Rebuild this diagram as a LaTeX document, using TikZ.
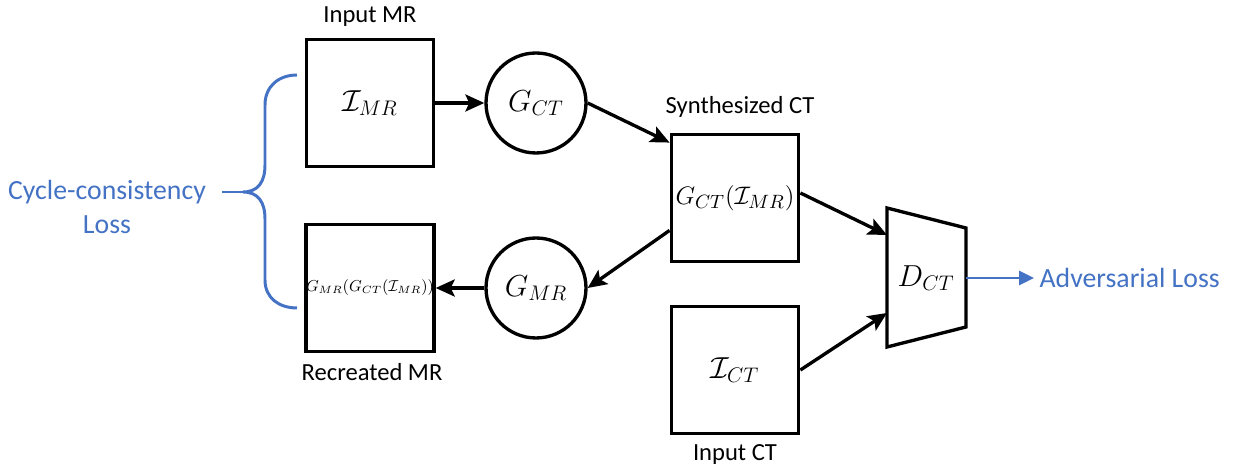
\documentclass[tikz,border=0pt]{standalone}
\usepackage{amsmath,amssymb}
\usepackage{fontspec}
\setmainfont{Carlito}
\usepackage{xcolor}
\usetikzlibrary{arrows.meta}
\definecolor{lossblue}{RGB}{68,114,196}

\tikzset{
  img/.style={draw, line width=1.9pt, minimum width=2.55cm, minimum height=2.55cm, inner sep=0pt},
  gen/.style={draw, circle, line width=1.9pt, minimum size=2cm, inner sep=0pt},
  flow/.style={line width=1.9pt, -{Stealth[length=3.8mm, width=3.4mm, inset=0.8mm]}},
  caption/.style={font=\fontsize{14}{16}\selectfont},
  loss/.style={text=lossblue, font=\fontsize{15.8}{19}\selectfont},
  bigmath/.style={font=\fontsize{17.5}{20}\selectfont},
}

\begin{document}
\begin{tikzpicture}[x=0.02cm, y=0.02cm]
  \useasboundingbox (0,0) rectangle (1234,466);

  % --- images ---
  \node[img, bigmath] (mrin)  at (370,363) {$\mathcal{I}_{MR}$};
  \node[img, font=\fontsize{15.2}{18}\selectfont] (ctsyn) at (735,268) {$G_{CT}(\mathcal{I}_{MR})$};
  \node[img, bigmath] (ctin)  at (735,96)  {$\mathcal{I}_{CT}$};
  \node[img, font=\fontsize{9}{11}\selectfont] (mrrec) at (370,178) {$G_{MR}(G_{CT}(\mathcal{I}_{MR}))$};

  \node[caption] (mrincap)  at (370,449) {Input MR};
  \node[caption] (ctsyncap) at (740,359) {Synthesized CT};
  \node[caption] (ctincap)  at (735,11)  {Input CT};
  \node[caption] (mrreccap) at (372,94)  {Recreated MR};

  % --- generators ---
  \node[gen, bigmath] (gct) at (536,363) {$G_{CT}$};
  \node[gen, bigmath] (gmr) at (536,178) {$G_{MR}$};

  % --- discriminator (trapezoid) ---
  \draw[line width=1.9pt] (887,258) -- (966,238) -- (966,139) -- (887,119) -- cycle;
  \node[bigmath] (dct) at (926,188) {$D_{CT}$};
  \coordinate (din1) at (887,231);
  \coordinate (din2) at (887,153);
  \coordinate (dout) at (966,188);

  % --- connectors ---
  \draw[flow] (mrin) -- (gct);
  \draw[flow] (gct.east) -- ([yshift=-0.2cm]ctsyn.north west);
  \draw[flow] ([yshift=0.66cm]ctsyn.south west) -- (gmr.east);
  \draw[flow] (gmr) -- (mrrec);
  \draw[flow] ([yshift=0.1cm]ctsyn.east) -- (din1);
  \draw[flow] (ctin.east) -- (din2);

  % --- losses ---
  \node[loss, anchor=west, inner sep=3pt] (adv) at (1034,188) {Adversarial Loss};
  \draw[lossblue, line width=1.7pt, -{Triangle[length=3mm, width=2.8mm]}] (dout) -- (adv.west);

  \node[loss, align=center] (cyc) at (107,259) {Cycle-consistency\\Loss};
  \draw[lossblue, line width=1.7pt]
    (297,391) .. controls (279,391) and (265,380) .. (265,361) -- (265,301)
    .. controls (265,284) and (258,274) .. (243,274)
    .. controls (258,274) and (265,264) .. (265,247) -- (265,186)
    .. controls (265,168) and (279,158) .. (297,158);
  \draw[lossblue, line width=1.7pt] (222,274) -- (243,274);
\end{tikzpicture}
\end{document}
